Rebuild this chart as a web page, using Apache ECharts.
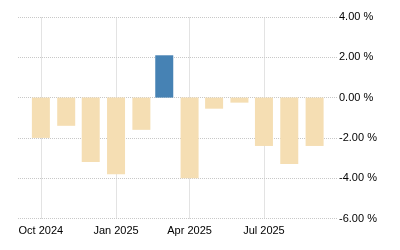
<!DOCTYPE html>
<html><head><meta charset="utf-8">
<script src="https://cdn.jsdelivr.net/npm/echarts@6/dist/echarts.min.js"></script>
<style>html,body{margin:0;padding:0;background:#fff}#c{width:400px;height:250px}</style>
</head><body><div id="c"></div>
<script>
const months = ['2024-10','2024-11','2024-12','2025-01','2025-02','2025-03','2025-04','2025-05','2025-06','2025-07','2025-08','2025-09'];
const values = [-2.0,-1.4,-3.2,-3.8,-1.6,2.1,-4.0,-0.55,-0.25,-2.4,-3.3,-2.4];
const xTickMonths = ['2024-10','2025-01','2025-04','2025-07'];
const yTicks = [-6,-4,-2,0,2,4];
const monthNames = ['Jan','Feb','Mar','Apr','May','Jun','Jul','Aug','Sep','Oct','Nov','Dec'];
function ts(m, d){ const [y,mo]=m.split('-').map(Number); return Date.UTC(y, mo-1, d||1); }
const chart = echarts.init(document.getElementById('c'));
chart.setOption({
  animation:false,
  grid:{left:18,right:63,top:17,bottom:31.5},
  xAxis:{type:'value',min:ts('2024-09',3),max:ts('2025-09',28)+10*3600*1000,
    axisLine:{show:false},
    axisTick:{show:false,customValues:xTickMonths.map(m=>ts(m))},
    axisLabel:{customValues:xTickMonths.map(m=>ts(m)),margin:7,color:'#000',fontSize:11,fontFamily:'Liberation Sans, Arial, sans-serif',
      formatter:v=>{const d=new Date(v);return monthNames[d.getUTCMonth()]+' '+d.getUTCFullYear();}},
    splitLine:{show:false}},
  yAxis:{type:'value',position:'right',min:yTicks[0],max:yTicks[yTicks.length-1],interval:2,
    axisLine:{show:false},axisTick:{show:false},
    axisLabel:{margin:2,color:'#000',fontSize:11,fontFamily:'Liberation Sans, Arial, sans-serif',formatter:v=>v.toFixed(2)+' %'},
    splitLine:{show:true,lineStyle:{type:'dotted',color:'#c8c8c8',width:1}}},
  series:[
    {type:'line',data:[],silent:true,z:0,
      markLine:{silent:true,symbol:'none',z:0,label:{show:false},animation:false,
        lineStyle:{type:'dotted',color:'#c8c8c8',width:1},
        data:xTickMonths.map(m=>({xAxis:ts(m)}))}},
    {type:'bar',barWidth:18,z:2,
    data:months.map((m,i)=>({value:[ts(m),values[i]],itemStyle:{color:values[i]>=0?'#4682B4':'#F5DEB3'}}))}]
});
</script></body></html>
